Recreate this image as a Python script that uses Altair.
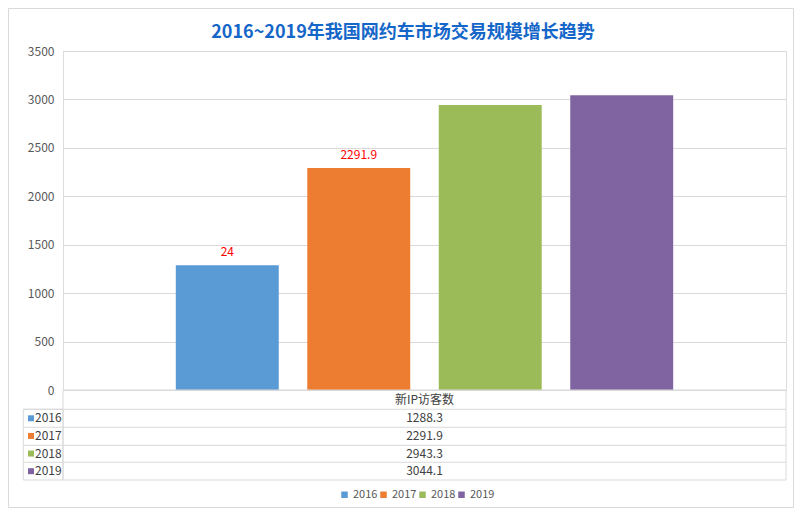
import altair as alt
import pandas as pd


years = ['2016', '2017', '2018', '2019']
values = [1288.3, 2291.9, 2943.3, 3044.1]
value_texts = ['1288.3', '2291.9', '2943.3', '3044.1']
colors = ['#5B9BD5', '#ED7D31', '#9BBB59', '#8064A2']

# data labels drawn on the chart (only the first two bars have them)
label_years = ['2016', '2017']
label_values = [1288.3, 2291.9]
label_texts = ['24', '2291.9']

y_ticks = [0, 500, 1000, 1500, 2000, 2500, 3000, 3500]
title_text = '2016~2019年我国网约车市场交易规模增长趋势'
table_header = '新IP访客数'

FONT = 'Noto Sans CJK SC'
GRID = '#D9D9D9'
W, H = 723, 339

df = pd.DataFrame({'year': years, 'value': values, 'text': value_texts})
df_labels = pd.DataFrame({'year': label_years, 'value': label_values, 'text': label_texts})
one = pd.DataFrame({'a': [0]})

color = alt.Color('year:N', scale=alt.Scale(domain=years, range=colors),
                  legend=alt.Legend(title=None, orient='none', direction='horizontal',
                                    legendX=276, legendY=438, symbolType='square',
                                    symbolSize=42, symbolStrokeWidth=0,
                                    labelFont=FONT, labelFontSize=11, labelColor='#595959',
                                    labelOffset=3, columnPadding=0, padding=0))

x_band = alt.X('year:N', scale=alt.Scale(domain=years, paddingInner=0.217, paddingOuter=0.858),
               axis=None)
y_scale = alt.Scale(domain=[0, 3500], nice=False)
y_val = alt.Y('value:Q', scale=y_scale,
              axis=alt.Axis(title=None, values=y_ticks, format='d', domain=False, ticks=False,
                            grid=True, gridColor=GRID, labelColor='#595959',
                            labelFont=FONT, labelFontSize=12, labelPadding=9))

bars = alt.Chart(df).mark_bar().encode(x=x_band, y=y_val, color=color)

labels = alt.Chart(df_labels).mark_text(color='#FF0000', font=FONT, fontSize=12,
                                        baseline='middle', dy=-13).encode(
    x=x_band,
    y=y_val,
    text='text:N'
)

chart_part = alt.layer(bars, labels)

# data table below the plot
row_y = alt.Y('year:N', scale=alt.Scale(type='point', domain=years, range=[367.3, 420.2], padding=0),
              axis=None)

cell_text = alt.Chart(df).mark_text(font=FONT, fontSize=12, color='#404040',
                                    baseline='middle', align='center').encode(
    x=alt.value(W / 2), y=row_y, text='text:N')

row_names = alt.Chart(df).mark_text(font=FONT, fontSize=12, color='#404040',
                                    baseline='middle', align='left').encode(
    x=alt.value(-28), y=row_y, text='year:N')

swatches = alt.Chart(df).mark_square(size=36, opacity=1).encode(
    x=alt.value(-32), y=row_y, color=color)

header = alt.Chart(one).mark_text(font=FONT, fontSize=12, color='#404040',
                                  baseline='middle').encode(
    x=alt.value(W / 2), y=alt.value(348.6), text=alt.value(table_header))

title = alt.Chart(one).mark_text(font=FONT, fontSize=18, fontWeight='bold', color='#1566C9',
                                 baseline='middle', align='center').encode(
    x=alt.value(340), y=alt.value(-18), text=alt.value(title_text))

# table frame: row lines plus two outlined boxes
lines = []
for yy in [358.3, 376.3, 394.3, 411.3]:
    lines.append(alt.Chart(one).mark_rect(color=GRID).encode(
        x=alt.value(-39.7), x2=alt.value(W), y=alt.value(yy - 0.5), y2=alt.value(yy + 0.5)))
for x0, x1, y0 in [(-39.7, 0, 358.3), (0, W, 339)]:
    lines.append(alt.Chart(one).mark_rect(fill='transparent', stroke=GRID, strokeWidth=1).encode(
        x=alt.value(x0), x2=alt.value(x1), y=alt.value(y0), y2=alt.value(429)))

border = alt.Chart(one).mark_rect(fill='transparent', stroke=GRID, strokeWidth=1).encode(
    x=alt.value(-54.5), x2=alt.value(730.5), y=alt.value(-42.5), y2=alt.value(456.5))

table_part = alt.layer(border, *lines, header, title, cell_text, row_names, swatches)

chart = alt.layer(chart_part, table_part).resolve_scale(y='independent').properties(
    width=W, height=H,
    autosize=alt.AutoSizeParams(type='none'),
    padding={'left': 55, 'top': 43, 'right': 8, 'bottom': 118},
).configure_view(stroke='transparent').configure(background='white')

chart.save('out.html', embed_options={'renderer': 'svg', 'actions': False})
